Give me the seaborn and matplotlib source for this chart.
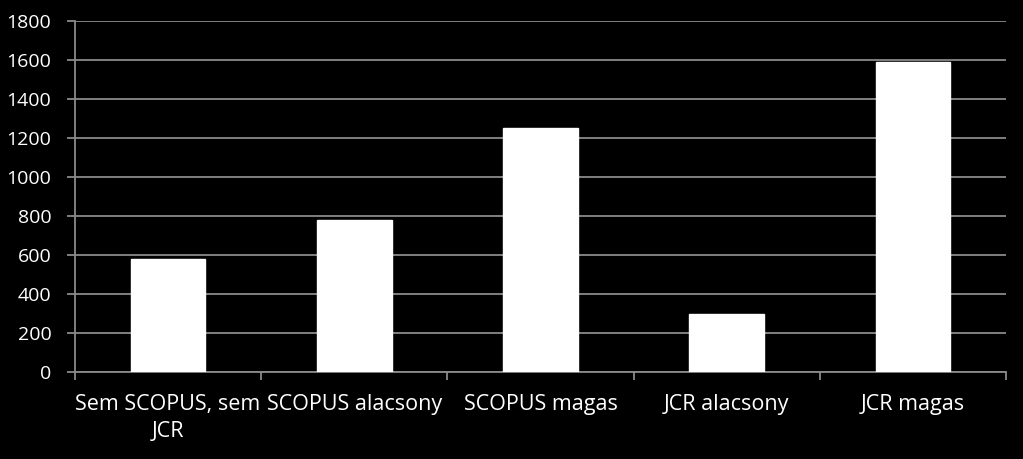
import numpy as np
import pandas as pd
import matplotlib
matplotlib.use("Agg")
import matplotlib.pyplot as plt
import seaborn as sns

# adatok
categories = ["Sem SCOPUS, sem\nJCR", "SCOPUS alacsony", "SCOPUS magas", "JCR alacsony", "JCR magas"]
values = [580, 780, 1250, 300, 1590]
y_ticks = [0, 200, 400, 600, 800, 1000, 1200, 1400, 1600, 1800]

df = pd.DataFrame({"kategoria": categories, "ertek": values})

sns.set_theme(style="dark")
plt.rcParams["font.family"] = ["Open Sans", "DejaVu Sans"]

grid_col = "#8a8a8a"
fig = plt.figure(figsize=(10.23, 4.59), dpi=100, facecolor="black")
ax = fig.add_axes([0.0733, 0.1895, 0.9101, 0.7647], facecolor="black")

sns.barplot(data=df, x="kategoria", y="ertek", color="white", width=0.4,
            saturation=1, ax=ax, zorder=3)

ax.set_ylim(0, 1800)
ax.set_xlim(-0.5, len(categories) - 0.5)
ax.set_yticks(y_ticks)
ax.yaxis.grid(True, color=grid_col, linewidth=1.3, zorder=0)
ax.xaxis.grid(False)
ax.set_xlabel("")
ax.set_ylabel("")

for s in ["top", "right"]:
    ax.spines[s].set_visible(False)
for s in ["left", "bottom"]:
    ax.spines[s].set_visible(True)
    ax.spines[s].set_color(grid_col)
    ax.spines[s].set_linewidth(1.3)

ax.tick_params(axis="y", colors=grid_col, labelcolor="white", labelsize=14,
               length=6, width=1.3, direction="out", left=True, pad=11)
ax.tick_params(axis="x", which="major", length=0, labelcolor="white",
               labelsize=15.5, pad=16)
for lbl in ax.get_xticklabels():
    lbl.set_linespacing(1.35)
ax.set_xticks(np.arange(-0.5, len(categories)), minor=True)
ax.tick_params(axis="x", which="minor", colors=grid_col, length=6,
               width=1.3, direction="out", bottom=True)

fig.savefig("out.png", dpi=100, facecolor="black")
